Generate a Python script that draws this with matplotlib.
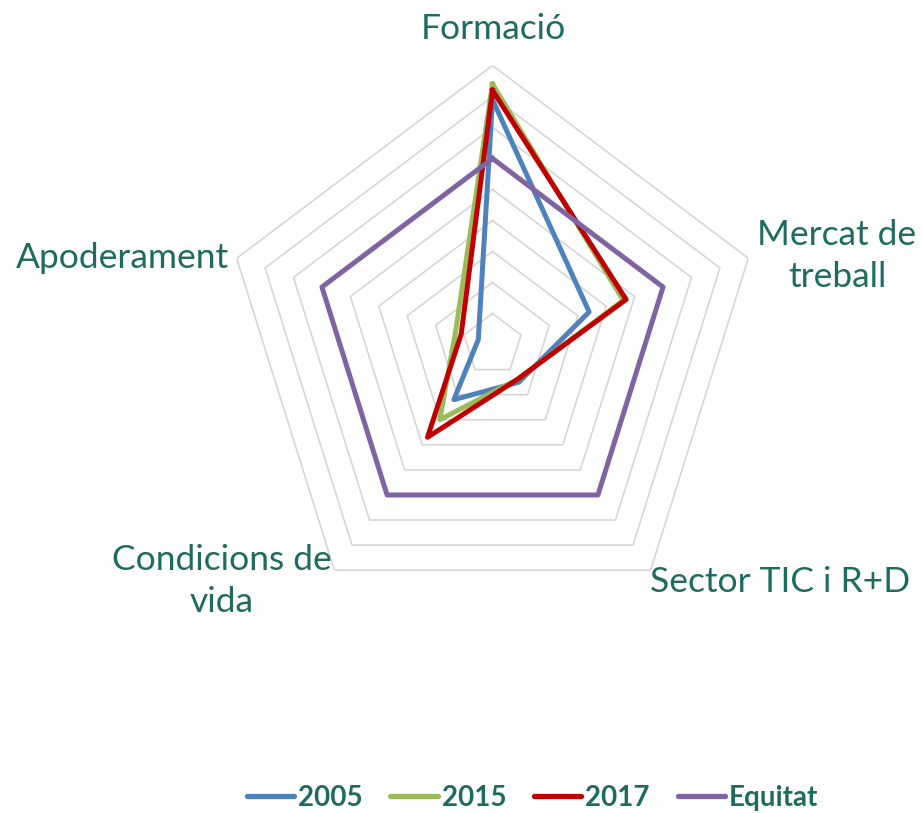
import numpy as np
import matplotlib
matplotlib.use("Agg")
import matplotlib.pyplot as plt
from matplotlib.lines import Line2D

categories = ['Formació', 'Mercat de treball', 'Sector TIC i R+D', 'Condicions de vida', 'Apoderament']
cat_labels = ['Formació', 'Mercat de\ntreball', 'Sector TIC i R+D', 'Condicions de\nvida', 'Apoderament']
series_names = ['2005', '2015', '2017', 'Equitat']
v2005 = [79, 34, 15, 22, 5]
v2015 = [84, 46, 14, 30, 13]
v2017 = [82, 47, 14, 37, 11]
equitat = [60, 60, 60, 60, 60]
ring_values = [10, 20, 30, 40, 50, 60, 70, 80, 90]

colors = ['#4F81BD', '#9BBB59', '#C00000', '#8064A2']
text_color = '#1E6B60'
FONT = ['Lato', 'DejaVu Sans']

W, H = 922, 813
fig = plt.figure(figsize=(W / 100, H / 100), dpi=100)
fig.patch.set_facecolor('white')

cx, cy = 492.5, 344.5
Rh, Rv = 269, 279
ax = fig.add_axes([(cx - Rh) / W, (H - cy - Rv) / H, 2 * Rh / W, 2 * Rv / H], projection='polar')
ax.set_aspect('auto')
ax.set_theta_zero_location('N')
ax.set_theta_direction(-1)
ax.set_ylim(0, 90)
ax.grid(False)
ax.set_xticks([])
ax.set_yticks([])
ax.spines['polar'].set_visible(False)
ax.patch.set_alpha(0)

n = len(categories)
angles = np.linspace(0, 2 * np.pi, n, endpoint=False)
ang_closed = np.concatenate([angles, angles[:1]])

for rv in ring_values:
    ax.plot(ang_closed, [rv] * (n + 1), color='#D4D4D4', lw=1.15, zorder=1)

for vals, col in zip([v2005, v2015, v2017, equitat], colors):
    vv = list(vals) + [vals[0]]
    ax.plot(ang_closed, vv, color=col, lw=3.6, solid_joinstyle='round', zorder=3)

label_pos = [(493, 29), (837, 256), (780, 582), (222, 581), (122.5, 258)]
for lab, (px, py) in zip(cat_labels, label_pos):
    fig.text(px / W, 1 - py / H, lab, ha='center', va='center', fontsize=25.5,
             color=text_color, family=FONT, linespacing=1.4, multialignment='center')

handles = [Line2D([0], [0], color=c, lw=3.8, solid_capstyle='round') for c in colors]
leg = fig.legend(handles, series_names, loc='center', bbox_to_anchor=(532.5 / W, 1 - 798 / H),
                 ncol=4, frameon=False, handlelength=1.7, handletextpad=0.15, columnspacing=1.0,
                 prop={'family': FONT, 'weight': 'bold', 'size': 20})
for t in leg.get_texts():
    t.set_color(text_color)

fig.savefig('out.png', dpi=100, facecolor='white')
